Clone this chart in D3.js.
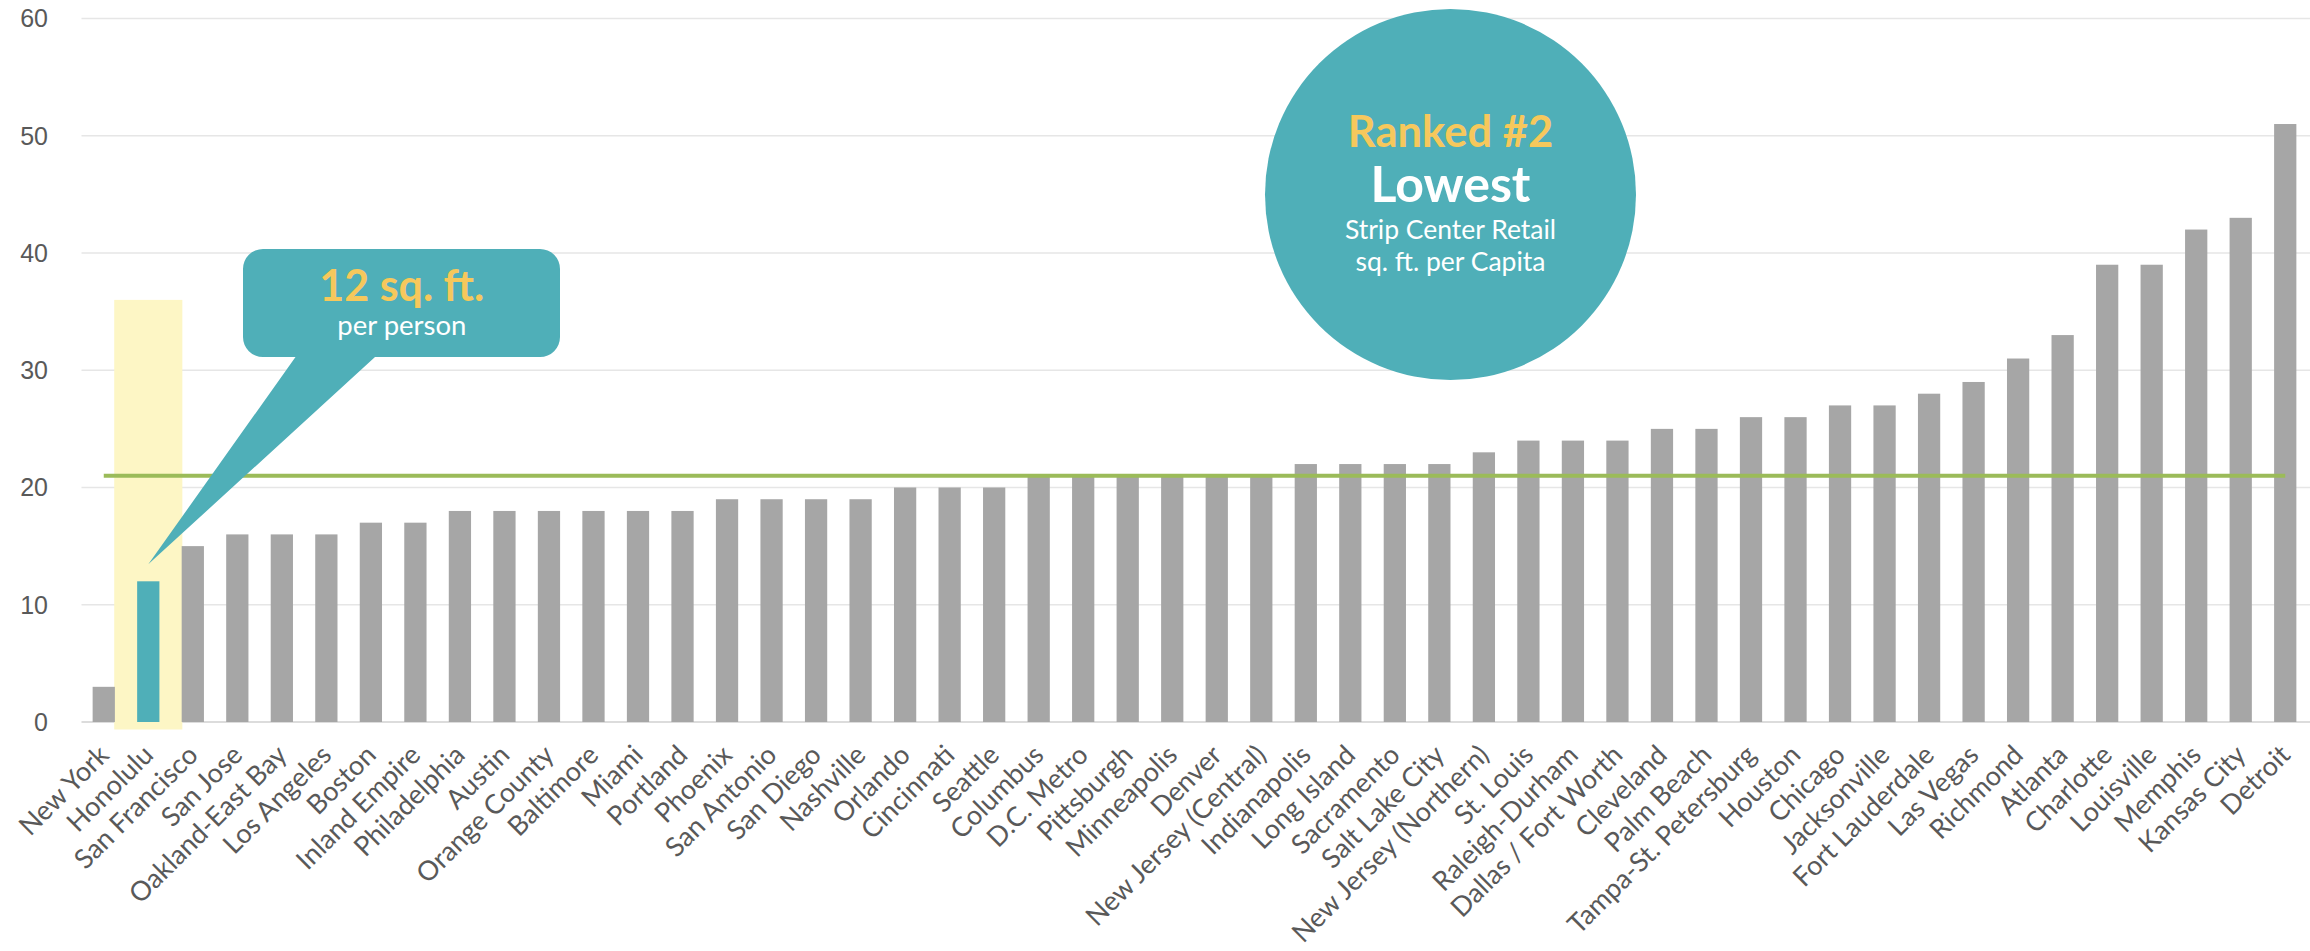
<!DOCTYPE html>
<html><head><meta charset="utf-8">
<script src="https://cdn.jsdelivr.net/npm/d3@7"></script>
<style>body{margin:0;background:#fff;overflow:hidden}</style>
</head><body>
<svg id="c" width="2310" height="951"></svg>
<script>
const categories = ["New York","Honolulu","San Francisco","San Jose","Oakland-East Bay","Los Angeles","Boston","Inland Empire","Philadelphia","Austin","Orange County","Baltimore","Miami","Portland","Phoenix","San Antonio","San Diego","Nashville","Orlando","Cincinnati","Seattle","Columbus","D.C. Metro","Pittsburgh","Minneapolis","Denver","New Jersey (Central)","Indianapolis","Long Island","Sacramento","Salt Lake City","New Jersey (Northern)","St. Louis","Raleigh-Durham","Dallas / Fort Worth","Cleveland","Palm Beach","Tampa-St. Petersburg","Houston","Chicago","Jacksonville","Fort Lauderdale","Las Vegas","Richmond","Atlanta","Charlotte","Louisville","Memphis","Kansas City","Detroit"];
const values = [3,12,15,16,16,16,17,17,18,18,18,18,18,18,19,19,19,19,20,20,20,21,21,21,21,21,21,22,22,22,22,23,24,24,24,25,25,26,26,27,27,28,29,31,33,39,39,42,43,51];
const yTicks = [0,10,20,30,40,50,60];
const averageValue = 21;
const highlightCity = "Honolulu";
const highlightTop = 36;
const calloutLines = ["12 sq. ft.","per person"];
const badgeLines = ["Ranked #2","Lowest","Strip Center Retail","sq. ft. per Capita"];

const svg = d3.select("#c");
const x = d3.scaleBand().domain(categories).range([81.5, 2307.5]).padding(0.5).paddingOuter(0.25);
const y = d3.scaleLinear().domain([0, 60]).range([722, 18.5]);
const teal = "#4fafb8", yellow = "#f6c85c", grey = "#a6a6a6", textGrey = "#595959";

// gridlines
svg.append("g").selectAll("line").data(yTicks).join("line")
  .attr("x1", 81.5).attr("x2", 2310)
  .attr("y1", d => y(d)).attr("y2", d => y(d))
  .attr("stroke", d => d === 0 ? "#dcdcdc" : "#e6e6e6").attr("stroke-width", d => d === 0 ? 2 : 1.5);

// y tick labels
svg.append("g").selectAll("text").data(yTicks).join("text")
  .attr("x", 48).attr("y", d => y(d)).attr("dy", "0.35em")
  .attr("text-anchor", "end").attr("fill", textGrey)
  .style("font-family", "'Liberation Sans', Arial, sans-serif").style("font-size", "25px")
  .text(d => d);

// highlight band
const hc = x(highlightCity) + x.bandwidth() / 2;
const hw = x.step() * 1.53;
svg.append("rect").attr("x", hc - hw / 2).attr("width", hw)
  .attr("y", y(highlightTop)).attr("height", y(0) + 7.5 - y(highlightTop))
  .attr("fill", "#fdf6c5");

// bars
svg.append("g").selectAll("rect").data(categories).join("rect")
  .attr("x", d => x(d)).attr("width", x.bandwidth())
  .attr("y", (d, i) => y(values[i])).attr("height", (d, i) => y(0) - y(values[i]))
  .attr("fill", d => d === highlightCity ? teal : grey);

// average line
svg.append("line")
  .attr("x1", x(categories[0]) + x.bandwidth() / 2)
  .attr("x2", x(categories[categories.length - 1]) + x.bandwidth() / 2)
  .attr("y1", y(averageValue)).attr("y2", y(averageValue))
  .attr("stroke", "#9bbb59").attr("stroke-width", 4);

// x labels
svg.append("g").selectAll("text").data(categories).join("text")
  .attr("transform", d => `translate(${x(d) + x.bandwidth() / 2},${y(0) + 28}) rotate(-45)`)
  .attr("dy", "0.35em").attr("text-anchor", "end").attr("fill", textGrey)
  .style("font-family", "Lato, sans-serif").style("font-size", "27px")
  .text(d => d);

// callout
const bx0 = 243, bx1 = 560, by0 = 249, by1 = 357, r = 20;
const hv = values[categories.indexOf(highlightCity)];
const tipX = hc, tipY = y(hv) - 17;
const p = d3.path();
p.moveTo(bx0 + r, by0);
p.lineTo(bx1 - r, by0);
p.arcTo(bx1, by0, bx1, by0 + r, r);
p.lineTo(bx1, by1 - r);
p.arcTo(bx1, by1, bx1 - r, by1, r);
p.lineTo(375, by1);
p.lineTo(tipX, tipY);
p.lineTo(295.5, by1);
p.lineTo(bx0 + r, by1);
p.arcTo(bx0, by1, bx0, by1 - r, r);
p.lineTo(bx0, by0 + r);
p.arcTo(bx0, by0, bx0 + r, by0, r);
p.closePath();
svg.append("path").attr("d", p.toString()).attr("fill", teal);
svg.append("text").attr("x", 401.8).attr("y", 300.5).attr("text-anchor", "middle")
  .attr("fill", yellow).style("font-family", "Lato, sans-serif").style("font-weight", 700).style("font-size", "43px")
  .text(calloutLines[0]);
svg.append("text").attr("x", 401.8).attr("y", 335).attr("text-anchor", "middle")
  .attr("fill", "#fff").style("font-family", "Lato, sans-serif").style("font-size", "27.5px")
  .text(calloutLines[1]);

// badge circle
const cx = 1450.5, cy = 194.5;
svg.append("circle").attr("cx", cx).attr("cy", cy).attr("r", 185.5).attr("fill", teal);
const badgeStyle = [
  {y: 146.7, size: 43.5, weight: 700, fill: yellow},
  {y: 202.3, size: 50, weight: 700, fill: "#fff"},
  {y: 239.3, size: 26.5, weight: 400, fill: "#fff"},
  {y: 270.7, size: 26.5, weight: 400, fill: "#fff"}
];
svg.append("g").selectAll("text").data(badgeLines).join("text")
  .attr("x", cx).attr("y", (d, i) => badgeStyle[i].y).attr("text-anchor", "middle")
  .attr("fill", (d, i) => badgeStyle[i].fill)
  .style("font-family", "Lato, sans-serif")
  .style("font-weight", (d, i) => badgeStyle[i].weight)
  .style("font-size", (d, i) => badgeStyle[i].size + "px")
  .text(d => d);
</script>
</body></html>
